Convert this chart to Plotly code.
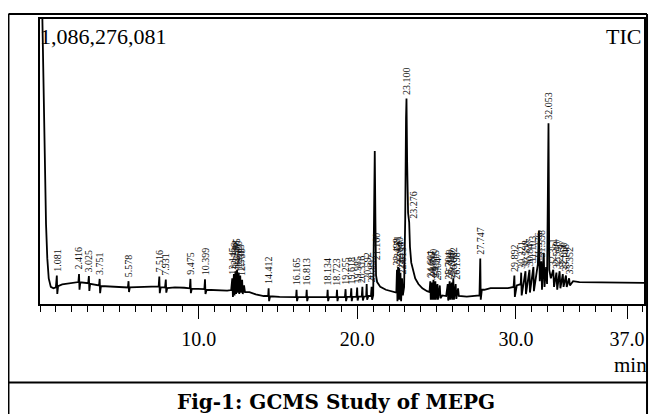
import plotly.graph_objects as go

# ---- chromatogram trace (retention time in min, relative intensity in % of full scale) ----
times = [0.15, 0.22, 0.30, 0.38, 0.46, 0.55, 0.68, 0.85, 1.00, 1.06, 1.09, 1.14, 1.40, 1.80, 2.20,
         2.42, 2.46, 2.49, 2.54, 2.80, 3.04, 3.08, 3.11, 3.16, 3.50, 3.72, 3.76, 3.79, 3.84, 4.30,
         5.00, 5.54, 5.58, 5.61, 5.66, 6.50, 7.20, 7.48, 7.52, 7.55, 7.61, 7.88, 7.93, 7.96, 8.02,
         8.50, 9.10, 9.44, 9.48, 9.51, 9.57, 10.00, 10.36, 10.40, 10.43, 10.50, 11.20, 11.80, 12.05,
         12.12, 12.16, 12.22, 12.26, 12.32, 12.36, 12.42, 12.46, 12.52, 12.56, 12.62, 12.66, 12.74,
         12.78, 12.86, 12.92, 13.20, 13.60, 14.10, 14.38, 14.41, 14.44, 14.50, 15.10, 16.00, 16.14,
         16.17, 16.20, 16.26, 16.78, 16.81, 16.84, 16.90, 18.10, 18.13, 18.16, 18.22, 18.69, 18.72,
         18.75, 18.80, 19.22, 19.26, 19.29, 19.35, 19.58, 19.62, 19.65, 19.70, 19.95, 19.99, 20.02,
         20.08, 20.28, 20.32, 20.35, 20.42, 20.56, 20.59, 20.62, 20.70, 20.86, 20.90, 20.93, 21.00,
         21.05, 21.10, 21.14, 21.18, 21.25, 21.45, 21.80, 22.10, 22.40, 22.46, 22.50, 22.53, 22.57,
         22.60, 22.64, 22.67, 22.72, 22.76, 22.82, 22.87, 22.95, 23.02, 23.07, 23.10, 23.14, 23.20,
         23.27, 23.32, 23.40, 23.50, 23.65, 23.85, 24.10, 24.40, 24.55, 24.60, 24.63, 24.70, 24.73,
         24.80, 24.84, 24.92, 24.95, 25.05, 25.08, 25.20, 25.24, 25.35, 25.60, 25.70, 25.73, 25.82,
         25.85, 25.95, 25.98, 26.05, 26.09, 26.20, 26.24, 26.35, 26.40, 26.90, 27.40, 27.70, 27.75,
         27.78, 27.85, 28.00, 28.40, 29.00, 29.50, 29.85, 29.90, 29.93, 30.05, 30.30, 30.33, 30.36,
         30.50, 30.60, 30.63, 30.75, 30.85, 30.88, 31.00, 31.10, 31.13, 31.25, 31.38, 31.45, 31.50,
         31.60, 31.64, 31.75, 31.80, 31.90, 31.96, 32.05, 32.10, 32.20, 32.35, 32.40, 32.55, 32.60,
         32.75, 32.80, 32.95, 33.00, 33.15, 33.20, 33.35, 33.40, 33.60, 34.00, 35.00, 36.00, 37.00,
         38.10]
signal = [100, 75, 48, 28, 16, 9.0, 6.0, 5.5, 5.8, 10.0, 3.5, 6.3, 6.9, 7.3, 7.6,
          7.7, 10.5, 5.0, 7.6, 7.4, 7.3, 9.8, 4.6, 7.1, 6.8, 6.5, 8.8, 3.8, 6.3, 6.1,
          5.9, 5.8, 8.0, 4.2, 5.8, 5.9, 6.1, 6.2, 9.6, 3.8, 5.9, 5.8, 8.6, 4.0, 5.6,
          5.8, 5.7, 5.5, 8.8, 3.8, 5.4, 5.3, 5.2, 8.7, 3.5, 5.0, 4.8, 4.7, 4.9,
          9.0, 2.5, 10.5, 3.0, 11.5, 3.5, 12.0, 4.0, 11.0, 3.5, 10.0, 4.0, 8.5,
          3.5, 6.5, 4.2, 4.2, 3.4, 2.8, 2.8, 5.5, 1.0, 2.7, 2.5, 2.4, 2.4,
          5.0, 1.0, 2.4, 2.4, 5.0, 1.0, 2.4, 2.4, 5.0, 1.0, 2.4, 2.4, 5.0,
          1.0, 2.4, 2.4, 5.2, 1.0, 2.5, 2.5, 5.5, 1.0, 2.5, 2.6, 5.8, 1.2,
          2.6, 2.6, 6.0, 1.2, 2.6, 2.7, 7.0, 1.5, 2.8, 2.8, 6.0, 1.5, 3.0,
          40, 53.7, 30, 10, 7.7, 6.0, 5.0, 4.5, 4.2, 4.0, 12.0, 1.0, 13.0,
          1.5, 12.5, 1.5, 11.0, 1.0, 9.0, 3.0, 6.0, 30, 65, 72.1, 50, 32,
          28.6, 20, 14.5, 12.0, 9.0, 7.0, 5.5, 4.5, 4.2, 8.0, 1.5, 7.5, 1.5,
          8.5, 1.5, 8.0, 1.5, 7.0, 1.5, 6.5, 2.0, 3.0, 2.8, 7.0, 1.2, 8.0,
          1.5, 7.5, 1.5, 9.0, 1.5, 7.0, 1.8, 5.5, 2.8, 2.6, 2.8, 3.0, 16.0,
          1.5, 5.0, 5.0, 5.6, 5.6, 5.6, 6.0, 10.0, 2.5, 6.5, 7.0, 11.0, 3.0,
          7.5, 11.5, 3.5, 8.0, 12.0, 4.0, 8.5, 13.0, 4.5, 9.0, 14.0, 25.8, 8.0,
          15.0, 5.0, 18.0, 6.0, 13.0, 7.0, 63.4, 12.0, 9.0, 12.0, 6.0, 11.0, 5.0,
          11.5, 5.5, 10.5, 6.0, 10.0, 6.0, 9.0, 6.5, 8.0, 7.7, 7.6, 7.5, 7.4,
          7.4]

# ---- peak labels ----
label_rt = [1.06, 2.46, 3.08, 3.76, 5.58, 7.52, 7.93, 9.48, 10.40,
            12.12, 12.22, 12.32, 12.42, 12.52, 12.62, 12.74,
            14.41, 16.17, 16.81, 18.13, 18.72, 19.26, 19.62, 19.99, 20.32, 20.59, 20.90, 21.18,
            22.50, 22.57, 22.64, 22.72, 22.82, 23.10, 23.27,
            24.60, 24.70, 24.80, 24.92, 25.05, 25.70, 25.82, 25.95, 26.05, 26.20, 27.75,
            29.90, 30.33, 30.60, 30.85, 31.10, 31.38, 31.60, 32.05,
            32.35, 32.55, 32.75, 32.95, 33.15, 33.35]
label_y = [10.0, 10.5, 9.8, 8.8, 8.0, 9.6, 8.6, 8.8, 8.7,
           9.0, 10.5, 11.5, 12.0, 11.0, 10.0, 8.5,
           5.5, 5.0, 5.0, 5.0, 5.0, 5.2, 5.5, 5.8, 6.0, 7.0, 6.0, 14.0,
           12.0, 13.0, 12.5, 11.0, 9.0, 72.1, 28.6,
           8.0, 7.5, 8.5, 8.0, 7.0, 7.0, 8.0, 7.5, 9.0, 7.0, 16.0,
           10.0, 11.0, 11.5, 12.0, 13.0, 14.0, 15.0, 63.4,
           12.0, 11.0, 11.5, 10.5, 10.0, 9.0]
label_text = ["1.081", "2.416", "3.025", "3.751", "5.578", "7.516", "7.931", "9.475", "10.399",
              "12.145", "12.236", "12.318", "12.415", "12.520", "12.613", "12.738",
              "14.412", "16.165", "16.813", "18.134", "18.723", "19.255", "19.618", "19.985",
              "20.316", "20.592", "20.897", "21.160",
              "22.498", "22.571", "22.640", "22.718", "22.815", "23.100", "23.276",
              "24.601", "24.697", "24.790", "24.915", "25.047", "25.704", "25.819", "25.946",
              "26.022", "26.198", "27.747",
              "29.892", "30.321", "30.598", "30.847", "31.103", "31.376", "31.598", "32.053",
              "32.351", "32.548", "32.747", "32.950", "33.148", "33.352"]

tick_vals = [10, 20, 30, 37]
tick_text = ["10.0", "20.0", "30.0", "37.0"]

SERIF = "Liberation Serif"

fig = go.Figure()
fig.add_trace(go.Scatter(x=times, y=signal, mode="lines",
                         line=dict(color="black", width=1.8), hoverinfo="skip",
                         showlegend=False))

for rt, yv, txt in zip(label_rt, label_y, label_text):
    fig.add_annotation(x=rt, y=yv, xref="x", yref="y", text=txt, showarrow=False,
                       textangle=-90, xanchor="center", yanchor="bottom", yshift=2,
                       xshift=4 if txt == "23.276" else 0,
                       font=dict(family=SERIF, size=10, color="#111"))

# the page body has an 8px margin; keep the content inside the visible window
fig.update_layout(
    width=651, height=406,
    margin=dict(l=32, r=15, t=9, b=110),
    paper_bgcolor="white", plot_bgcolor="white",
    xaxis=dict(range=[0, 38.07], showgrid=False, zeroline=False,
               showline=True, linecolor="black", linewidth=1.8, mirror=True,
               tickmode="array", tickvals=tick_vals, ticktext=tick_text,
               ticks="outside", ticklen=13, tickwidth=1.3, tickcolor="black",
               ticklabelstandoff=3,
               tickfont=dict(family=SERIF, size=20, color="black"),
               minor=dict(dtick=1, tick0=0, ticks="outside", ticklen=6,
                          tickwidth=1.2, tickcolor="black", showgrid=False)),
    yaxis=dict(range=[0, 100], showgrid=False, zeroline=False, showticklabels=False,
               ticks="", showline=True, linecolor="black", linewidth=1.8, mirror=True),
)

# text in the chart
fig.add_annotation(xref="paper", yref="paper", x=-0.004, y=0.937, text="1,086,276,081",
                   showarrow=False, xanchor="left", yanchor="middle",
                   font=dict(family=SERIF, size=22, color="black"))
fig.add_annotation(xref="paper", yref="paper", x=0.999, y=0.937, text="TIC",
                   showarrow=False, xanchor="right", yanchor="middle",
                   font=dict(family=SERIF, size=22, color="black"))
fig.add_annotation(xref="paper", yref="paper", x=0.977, y=-0.2125, text="min",
                   showarrow=False, xanchor="center", yanchor="middle",
                   font=dict(family=SERIF, size=21, color="black"))
fig.add_annotation(xref="paper", yref="paper", x=0.490, y=-0.345,
                   text="<b>Fig-1: GCMS Study of MEPG</b>",
                   showarrow=False, xanchor="center", yanchor="middle",
                   font=dict(family="DejaVu Serif", size=20, color="black"))

# surrounding table-cell box
box = dict(color="black", width=2)
fig.add_shape(type="line", xref="paper", yref="paper", x0=-0.0522, x1=-0.0522, y0=1.0174, y1=-0.40, line=box)
fig.add_shape(type="line", xref="paper", yref="paper", x0=1.005, x1=1.005, y0=1.0174, y1=-0.40, line=box)
fig.add_shape(type="line", xref="paper", yref="paper", x0=-0.0522, x1=1.005, y0=1.0174, y1=1.0174, line=box)
fig.add_shape(type="line", xref="paper", yref="paper", x0=-0.0522, x1=1.005, y0=-0.2753, y1=-0.2753, line=box)

fig.write_html("out.html")
